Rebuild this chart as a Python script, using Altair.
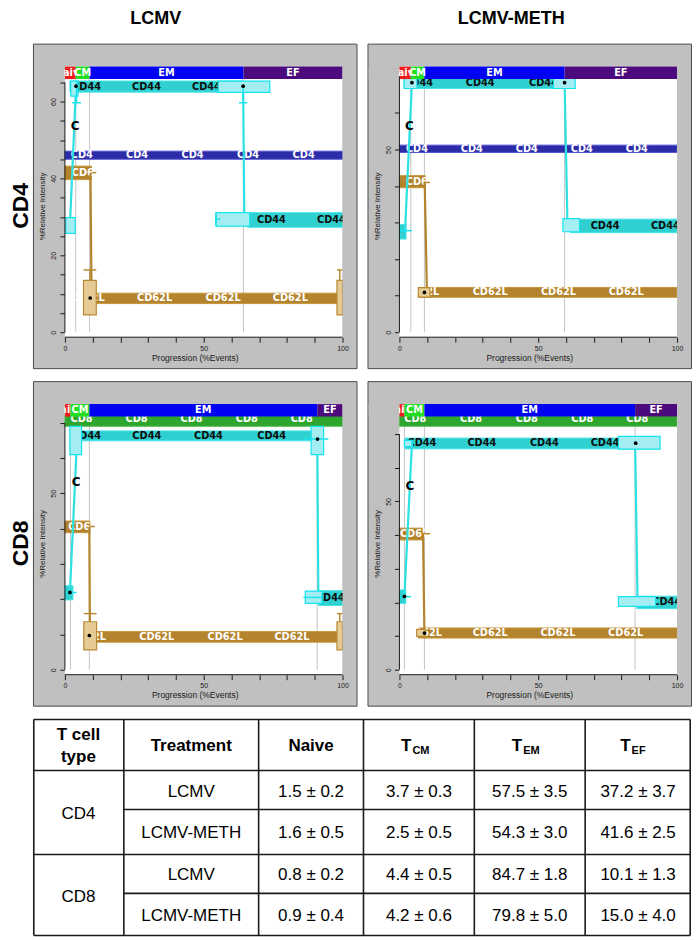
import altair as alt
import pandas as pd

# ---------------- text ----------------
COL_TITLES = ["LCMV", "LCMV-METH"]
ROW_TITLES = ["CD4", "CD8"]
PHASES = ["Naive", "CM", "EM", "EF"]
X_TITLE = "Progression (%Events)"
Y_TITLE = "%Relative Intensity"

# ---------------- panel values ----------------
# bands: [x_start, x_end, level, half_thickness]; boxes: [x1, x2, y1, y2]
# whiskers: [marker, x1, y1, x2, y2]; paths: list of (x, y) points

# CD4 / LCMV
P1_YMAX = 69.1
P1_TICKS = [5, 20]
P1_PHASE_END = [3.9, 8.9, 64.3, 100.0]
P1_ID_LEVEL = [46.05, 1.05]
P1_ID_LABEL_X = [6.1, 26.0, 46.0, 66.0, 86.0]
P1_CD44_BANDS = [[1.8, 64.3, 63.9, 1.45], [65.8, 100.0, 29.2, 1.9]]
P1_CD44_LABELS = [[7.8, 63.9], [29.4, 63.9], [51.0, 63.9], [74.4, 29.2], [96.0, 29.2]]
P1_CD44_PATH = [[(1.8, 27.7), (4.0, 64.0)], [(64.2, 64.0), (64.6, 31.5), (65.8, 29.4)]]
P1_CD44_BOXES = [[0.3, 3.7, 25.7, 29.8], [2.1, 4.7, 61.4, 65.3], [55.2, 73.8, 62.4, 65.3], [54.4, 66.6, 27.6, 31.1]]
P1_CD62L_BANDS = [[0.0, 9.6, 41.45, 1.75], [6.7, 100.0, 8.8, 1.35]]
P1_CD62L_LABELS = [[8.8, 41.45], [8.0, 8.8], [32.3, 8.8], [57.0, 8.8], [81.2, 8.8]]
P1_CD62L_PATH = [[(9.2, 41.3), (9.6, 8.8)]]
P1_CD62L_BOXES = [[6.7, 11.3, 4.5, 13.5], [98.0, 100.0, 4.5, 13.5]]
P1_WHISKERS = [["CD44", 4.2, 65.3, 4.2, 59.7], ["CD44", 2.6, 59.7, 5.8, 59.7],
               ["CD44", 64.2, 64.0, 64.2, 59.7], ["CD44", 62.7, 59.7, 65.7, 59.7],
               ["CD44", 54.4, 29.4, 56.0, 29.4], ["CD44", 54.4, 27.9, 54.4, 30.9],
               ["CD62L", 9.0, 13.5, 9.0, 16.2], ["CD62L", 6.7, 16.2, 11.3, 16.2],
               ["CD62L", 99.0, 13.5, 99.0, 16.2], ["CD62L", 98.0, 16.2, 100.0, 16.2],
               ["CD62L", 9.6, 41.5, 11.3, 41.5]]
P1_DOTS = [[4.0, 64.0], [64.2, 64.0], [9.1, 8.9]]
P1_OPEN = [[3.7, 53.6]]

# CD4 / LCMV-METH
P2_YMAX = 72.7
P2_TICKS = [10, 50]
P2_PHASE_END = [4.1, 9.0, 59.5, 100.0]
P2_ID_LEVEL = [50.2, 1.0]
P2_ID_LABEL_X = [6.3, 26.1, 45.9, 65.7, 85.5]
P2_CD44_BANDS = [[0.0, 2.4, 27.5, 2.0], [1.7, 59.5, 68.2, 1.5], [61.5, 100.0, 29.1, 1.85]]
P2_CD44_LABELS = [[6.9, 68.2], [29.1, 68.2], [51.9, 68.2], [74.1, 29.1], [95.8, 29.1]]
P2_CD44_PATH = [[(2.0, 27.5), (4.5, 68.2)], [(59.5, 68.2), (60.5, 31.0), (61.5, 29.1)]]
P2_CD44_BOXES = [[1.7, 6.3, 66.7, 69.7], [55.5, 63.3, 66.7, 69.7], [58.9, 64.9, 27.5, 31.1]]
P2_CD62L_BANDS = [[0.0, 9.3, 41.2, 1.65], [6.8, 100.0, 10.9, 1.35]]
P2_CD62L_LABELS = [[8.6, 41.2], [8.0, 10.9], [32.7, 10.9], [57.3, 10.9], [81.7, 10.9]]
P2_CD62L_PATH = [[(9.1, 41.2), (9.9, 10.9)]]
P2_CD62L_BOXES = [[6.8, 11.0, 9.6, 12.2]]
P2_WHISKERS = [["CD44", 0.0, 27.8, 4.5, 27.8], ["CD62L", 9.3, 41.0, 11.0, 41.0]]
P2_DOTS = [[4.5, 68.3], [59.5, 68.3], [9.0, 10.9]]
P2_OPEN = [[3.6, 56.5]]

# CD8 / LCMV
P3_YMAX = 75.3
P3_TICKS = [10, 50]
P3_PHASE_END = [2.0, 8.8, 90.9, 100.0]
P3_ID_LEVEL = [70.5, 1.5]
P3_ID_LABEL_X = [6.0, 25.8, 45.6, 65.5, 85.3]
P3_CD44_BANDS = [[0.0, 2.9, 21.8, 2.0], [2.4, 90.9, 66.3, 1.4], [91.3, 100.0, 20.3, 2.1]]
P3_CD44_LABELS = [[7.8, 66.3], [29.5, 66.3], [51.7, 66.3], [74.5, 66.3], [95.6, 20.3]]
P3_CD44_PATH = [[(1.8, 21.9), (4.4, 66.0)], [(90.9, 66.0), (91.3, 20.3)]]
P3_CD44_BOXES = [[1.8, 6.0, 61.0, 69.0], [88.7, 93.2, 61.0, 69.0], [86.6, 92.6, 18.8, 22.3]]
P3_CD62L_BANDS = [[0.0, 9.0, 40.5, 1.65], [8.4, 100.0, 9.3, 1.5]]
P3_CD62L_LABELS = [[7.5, 40.5], [8.5, 9.3], [33.1, 9.3], [57.7, 9.3], [81.8, 9.3]]
P3_CD62L_PATH = [[(8.8, 40.5), (9.0, 9.7)]]
P3_CD62L_BOXES = [[6.8, 11.4, 5.6, 13.6], [98.0, 100.0, 5.6, 13.6]]
P3_WHISKERS = [["CD44", 85.9, 65.4, 94.9, 65.4], ["CD44", 85.9, 20.5, 92.6, 20.5],
               ["CD44", 0.0, 21.9, 4.2, 21.9], ["CD62L", 9.0, 40.6, 10.8, 40.6],
               ["CD62L", 9.1, 13.6, 9.1, 15.9], ["CD62L", 6.8, 15.9, 11.4, 15.9],
               ["CD62L", 99.0, 13.6, 99.0, 15.9], ["CD62L", 98.0, 15.9, 100.0, 15.9]]
P3_DOTS = [[1.8, 21.9], [91.0, 65.4], [8.8, 9.7]]
P3_OPEN = [[4.0, 53.2]]

# CD8 / LCMV-METH
P4_YMAX = 78.9
P4_TICKS = [10, 50]
P4_PHASE_END = [1.8, 9.0, 84.9, 100.0]
P4_ID_LEVEL = [73.85, 1.55]
P4_ID_LABEL_X = [5.7, 25.8, 45.9, 65.9, 85.7]
P4_CD44_BANDS = [[0.0, 2.3, 21.7, 2.0], [2.0, 84.9, 67.2, 1.6], [85.5, 100.0, 20.0, 1.85]]
P4_CD44_LABELS = [[8.1, 67.2], [29.7, 67.2], [52.2, 67.2], [74.1, 67.2], [96.3, 20.0]]
P4_CD44_PATH = [[(1.8, 21.8), (4.5, 67.2)], [(84.9, 67.2), (85.8, 19.9)]]
P4_CD44_BOXES = [[1.8, 4.5, 66.3, 68.1], [78.9, 93.9, 65.5, 69.3], [78.9, 92.3, 18.8, 21.7]]
P4_CD62L_BANDS = [[0.0, 8.3, 40.3, 1.75], [6.8, 100.0, 10.9, 1.5]]
P4_CD62L_LABELS = [[6.5, 40.3], [9.0, 10.9], [32.7, 10.9], [57.1, 10.9], [81.5, 10.9]]
P4_CD62L_PATH = [[(8.5, 40.3), (9.0, 10.9)]]
P4_CD62L_BOXES = [[6.2, 9.3, 9.9, 12.0]]
P4_WHISKERS = [["CD44", 0.0, 21.7, 4.2, 21.7], ["CD62L", 8.3, 40.4, 11.1, 40.4]]
P4_DOTS = [[1.8, 21.8], [85.1, 67.3], [9.0, 10.9]]
P4_OPEN = [[3.8, 54.5]]

# ---------------- table values ----------------
TABLE_HEAD = ["T cell", "Treatment", "Naive", "T", "T", "T"]
TABLE_HEAD_SUB = ["", "", "", "CM", "EM", "EF"]
T_CELL_TYPES = ["CD4", "CD8"]
TREATMENTS = ["LCMV", "LCMV-METH", "LCMV", "LCMV-METH"]
NAIVE_MEAN = [1.5, 1.6, 0.8, 0.9]
NAIVE_SEM = [0.2, 0.5, 0.2, 0.4]
CM_MEAN = [3.7, 2.5, 4.4, 4.2]
CM_SEM = [0.3, 0.5, 0.5, 0.6]
EM_MEAN = [57.5, 54.3, 84.7, 79.8]
EM_SEM = [3.5, 3.0, 1.8, 5.0]
EF_MEAN = [37.2, 41.6, 10.1, 15.0]
EF_SEM = [3.7, 2.5, 1.3, 4.0]

# ---------------- styles / layout ----------------
SANS = "Liberation Sans"
BAND_FONT = "DejaVu Sans"
INK = "#1a1a1a"
PANEL_GRAY = "#c0c0c0"
PANEL_EDGE = "#4a4a4a"
PHASE_COLORS = ["#ee1c1c", "#22dd22", "#0000f2", "#4c0a7d"]
STYLE = {
    "CD4": dict(fill="#2c2ca8", edge="#5252d2", text="#ffffff"),
    "CD8": dict(fill="#2ea62e", edge="#52c052", text="#ffffff"),
    "CD44": dict(fill="#30cfd0", edge="#44e6e8", text="#0d0d0d", box="#a4eef3",
                 boxedge="#14e4ee", line="#2ee0e2"),
    "CD62L": dict(fill="#b4832d", edge="#c69639", text="#ffffff", box="#e6cb94",
                  boxedge="#b98a34", line="#b4832d"),
}

VIEW_W, VIEW_H = 324, 325
LABEL_W = 14
GAP_X = 11
PLOT_L, PLOT_R, PLOT_T = 32, 14, 23
ZERO_Y, AXIS_Y = 289, 294
PHASE_H = 12.5
PX_X = (VIEW_W - PLOT_L - PLOT_R) / 100.0
X_MIN = -PLOT_L / PX_X
X_MAX = 100 + PLOT_R / PX_X


def build_panel(ymax, ticks, phase_end, id_name, id_level, id_label_x,
                cd44_bands, cd44_labels, cd44_path, cd44_boxes,
                cd62l_bands, cd62l_labels, cd62l_path, cd62l_boxes,
                whiskers, dots, opens, title=None):
    ppu = (ZERO_Y - PLOT_T) / ymax
    xs = alt.Scale(domain=[X_MIN, X_MAX], nice=False, zero=False)
    ys = alt.Scale(domain=[(ZERO_Y - VIEW_H) / ppu, ZERO_Y / ppu], nice=False, zero=False)
    axis_y = (ZERO_Y - AXIS_Y) / ppu
    ph_lo = ymax - PHASE_H / ppu
    tick, lab = ticks
    top_tick = int(ymax // tick) * tick

    x_axis = alt.Axis(
        orient="bottom", offset=-(VIEW_H - AXIS_Y), values=list(range(0, 101, 10)),
        labelExpr="datum.value % 50 === 0 ? datum.label : ''",
        domain=False, grid=False, tickSize=5, tickColor=INK, tickWidth=1,
        labelFont=SANS, labelFontSize=7, labelColor=INK, labelPadding=2,
        labelOverlap=False, labelFlush=False,
        title=X_TITLE, titleFont=SANS, titleFontSize=8.5, titleFontWeight="normal",
        titleColor=INK, titlePadding=2)
    y_axis = alt.Axis(
        orient="left", offset=-PLOT_L, values=list(range(0, top_tick + 1, tick)),
        labelExpr=f"datum.value % {lab} === 0 ? datum.label : ''",
        domain=False, grid=False, tickSize=5, tickColor=INK, tickWidth=1,
        labelFont=SANS, labelFontSize=7, labelColor=INK, labelPadding=3,
        labelAngle=270, labelAlign="center", labelBaseline="bottom",
        labelOverlap=False, labelFlush=False,
        title=Y_TITLE, titleFont=SANS, titleFontSize=8, titleFontWeight="normal",
        titleColor=INK, titlePadding=3)

    def X(f):
        return alt.X(f, scale=xs, axis=x_axis)

    def Y(f):
        return alt.Y(f, scale=ys, axis=y_axis)

    def rect(rows, **mk):
        df = pd.DataFrame(rows, columns=["x1", "x2", "y1", "y2"])
        return alt.Chart(df).mark_rect(**mk).encode(
            x=X("x1:Q"), x2="x2:Q", y=Y("y1:Q"), y2="y2:Q")

    def rule(rows, **mk):
        df = pd.DataFrame(rows, columns=["x1", "x2", "y1", "y2"])
        return alt.Chart(df).mark_rule(**mk).encode(
            x=X("x1:Q"), x2="x2:Q", y=Y("y1:Q"), y2="y2:Q")

    def text(rows, **mk):
        df = pd.DataFrame(rows, columns=["x", "y", "t"])
        return alt.Chart(df).mark_text(**mk).encode(x=X("x:Q"), y=Y("y:Q"), text="t:N")

    def line(paths, **mk):
        rows = [{"seg": s, "i": i, "x": x, "y": y}
                for s, path in enumerate(paths) for i, (x, y) in enumerate(path)]
        return alt.Chart(pd.DataFrame(rows)).mark_line(**mk).encode(
            x=X("x:Q"), y=Y("y:Q"), detail="seg:N", order="i:Q")

    def band_rows(bands):
        return [[a, b, c - h, c + h] for a, b, c, h in bands]

    band_text = dict(font=BAND_FONT, fontWeight="bold", fontSize=9.8,
                     align="center", baseline="middle")

    layers = [rect([[0.0, 100.0, axis_y, ymax]], fill="white")]
    layers.append(rule([[x, x, 0.0, ph_lo] for x in phase_end[:-1]],
                       color="#c4c4c4", strokeWidth=1))

    s = STYLE[id_name]
    c, h = id_level
    layers.append(rect([[0.0, 100.0, c - h, c + h]], fill=s["fill"], stroke=s["edge"], strokeWidth=1))
    layers.append(text([[x, c, id_name] for x in id_label_x], fill=s["text"],
                       dy=-2 if id_name == "CD8" else 0, **band_text))

    for name, bands, labels, path, boxes in (
            ("CD62L", cd62l_bands, cd62l_labels, cd62l_path, cd62l_boxes),
            ("CD44", cd44_bands, cd44_labels, cd44_path, cd44_boxes)):
        s = STYLE[name]
        layers.append(rect(band_rows(bands), fill=s["fill"], stroke=s["edge"], strokeWidth=1))
        layers.append(text([[x, y, name] for x, y in labels], fill=s["text"], **band_text))
        layers.append(line(path, color=s["line"], strokeWidth=2.2))
        layers.append(rect(boxes, fill=s["box"], stroke=s["boxedge"], strokeWidth=1.2))
        wh = [[w[1], w[3], w[2], w[4]] for w in whiskers if w[0] == name]
        if wh:
            layers.append(rule(wh, color=s["boxedge"], strokeWidth=1.5))

    layers.append(alt.Chart(pd.DataFrame(dots, columns=["x", "y"])).mark_point(
        filled=True, color="black", size=14, opacity=1).encode(x=X("x:Q"), y=Y("y:Q")))
    layers.append(text([[x, y, "C"] for x, y in opens], fill="black", font=BAND_FONT,
                       fontWeight="bold", fontSize=12, align="center", baseline="middle"))

    starts = [0.0] + phase_end[:-1]
    ph = pd.DataFrame({"phase": PHASES, "x1": starts, "x2": phase_end,
                       "y1": ph_lo, "y2": ymax})
    ph["xc"] = (ph["x1"] + ph["x2"]) / 2
    ph["yc"] = (ph["y1"] + ph["y2"]) / 2
    pcol = alt.Color("phase:N", scale=alt.Scale(domain=PHASES, range=PHASE_COLORS), legend=None)
    for part in (ph.iloc[:1], ph.iloc[1:]):
        layers.append(alt.Chart(part).mark_rect().encode(
            x=X("x1:Q"), x2="x2:Q", y=Y("y1:Q"), y2="y2:Q", color=pcol))
        layers.append(alt.Chart(part).mark_text(fill="white", **band_text).encode(
            x=X("xc:Q"), y=Y("yc:Q"), text="phase:N"))

    # gray margins mask what spills outside the plotting region
    layers.append(rect([[X_MIN + 1.2 / PX_X, -0.15, ph_lo, ymax]], fill=PANEL_GRAY))
    layers.append(rect([[100.0, X_MAX - 1.2 / PX_X, axis_y, ymax + 0.2]], fill=PANEL_GRAY))

    layers.append(rule([[0.0, 100.0, axis_y, axis_y]], color=INK, strokeWidth=1))
    layers.append(rule([[0.0, 0.0, 0.0, float(top_tick)]], color=INK, strokeWidth=1))

    props = dict(width=VIEW_W, height=VIEW_H,
                 view=alt.ViewBackground(fill=PANEL_GRAY, stroke=PANEL_EDGE, strokeWidth=1))
    if title is not None:
        props["title"] = title
    return alt.layer(*layers).properties(**props)


def col_title(txt, dx):
    return alt.TitleParams(text=txt, anchor="middle", dx=dx, fontSize=18, fontWeight="bold",
                           font=SANS, color="black", offset=16)


def side_label(txt, h):
    return alt.Chart(pd.DataFrame({"t": [txt]})).mark_text(
        angle=270, dy=6, font=SANS, fontWeight="bold", fontSize=23, color="black",
        align="center", baseline="middle").encode(text="t:N").properties(width=LABEL_W, height=h)


p1 = build_panel(P1_YMAX, P1_TICKS, P1_PHASE_END, "CD4", P1_ID_LEVEL, P1_ID_LABEL_X,
                 P1_CD44_BANDS, P1_CD44_LABELS, P1_CD44_PATH, P1_CD44_BOXES,
                 P1_CD62L_BANDS, P1_CD62L_LABELS, P1_CD62L_PATH, P1_CD62L_BOXES,
                 P1_WHISKERS, P1_DOTS, P1_OPEN, title=col_title(COL_TITLES[0], -39))
p2 = build_panel(P2_YMAX, P2_TICKS, P2_PHASE_END, "CD4", P2_ID_LEVEL, P2_ID_LABEL_X,
                 P2_CD44_BANDS, P2_CD44_LABELS, P2_CD44_PATH, P2_CD44_BOXES,
                 P2_CD62L_BANDS, P2_CD62L_LABELS, P2_CD62L_PATH, P2_CD62L_BOXES,
                 P2_WHISKERS, P2_DOTS, P2_OPEN, title=col_title(COL_TITLES[1], -18))
p3 = build_panel(P3_YMAX, P3_TICKS, P3_PHASE_END, "CD8", P3_ID_LEVEL, P3_ID_LABEL_X,
                 P3_CD44_BANDS, P3_CD44_LABELS, P3_CD44_PATH, P3_CD44_BOXES,
                 P3_CD62L_BANDS, P3_CD62L_LABELS, P3_CD62L_PATH, P3_CD62L_BOXES,
                 P3_WHISKERS, P3_DOTS, P3_OPEN)
p4 = build_panel(P4_YMAX, P4_TICKS, P4_PHASE_END, "CD8", P4_ID_LEVEL, P4_ID_LABEL_X,
                 P4_CD44_BANDS, P4_CD44_LABELS, P4_CD44_PATH, P4_CD44_BOXES,
                 P4_CD62L_BANDS, P4_CD62L_LABELS, P4_CD62L_PATH, P4_CD62L_BOXES,
                 P4_WHISKERS, P4_DOTS, P4_OPEN)

# ---------------- table ----------------
COL_EDGES = [0, 91, 226, 331, 442, 553, 659]
ROW_EDGES = [0, 52, 91, 136, 175, 218]
TABLE_W, TABLE_H = COL_EDGES[-1], ROW_EDGES[-1]


def build_table():
    tx = alt.Scale(domain=[0, TABLE_W], nice=False, zero=False)
    ty = alt.Scale(domain=[0, TABLE_H], nice=False, zero=False, reverse=True)
    inset = 0.8
    lines = []
    for k, y in enumerate(ROW_EDGES):
        yy = min(max(y, inset), TABLE_H - inset)
        x0 = COL_EDGES[1] if k in (2, 4) else inset
        lines.append([x0, TABLE_W - inset, yy, yy])
    for x in COL_EDGES:
        xx = min(max(x, inset), TABLE_W - inset)
        lines.append([xx, xx, inset, TABLE_H - inset])
    ldf = pd.DataFrame(lines, columns=["x1", "x2", "y1", "y2"])
    grid = alt.Chart(ldf).mark_rule(color=INK, strokeWidth=1.6).encode(
        x=alt.X("x1:Q", scale=tx, axis=None), x2="x2:Q",
        y=alt.Y("y1:Q", scale=ty, axis=None), y2="y2:Q")

    cx = [(COL_EDGES[i] + COL_EDGES[i + 1]) / 2 for i in range(len(COL_EDGES) - 1)]
    ry = [(ROW_EDGES[i] + ROW_EDGES[i + 1]) / 2 + 1.5 for i in range(len(ROW_EDGES) - 1)]
    head_y = ry[0]

    def tchart(rows, **mk):
        df = pd.DataFrame(rows, columns=["x", "y", "t"])
        return alt.Chart(df).mark_text(**mk).encode(
            x=alt.X("x:Q", scale=tx, axis=None), y=alt.Y("y:Q", scale=ty, axis=None),
            text="t:N")

    head = [[cx[0], head_y - 11, TABLE_HEAD[0]], [cx[0], head_y + 11, "type"]]
    head += [[cx[i], head_y, TABLE_HEAD[i]] for i in (1, 2)]
    heads_t = [[cx[i], head_y, TABLE_HEAD[i]] for i in (3, 4, 5)]
    subs = [[cx[i], head_y, TABLE_HEAD_SUB[i]] for i in (3, 4, 5)]

    body = []
    body.append([cx[0], (ROW_EDGES[1] + ROW_EDGES[3]) / 2 + 2, T_CELL_TYPES[0]])
    body.append([cx[0], (ROW_EDGES[3] + ROW_EDGES[5]) / 2 + 2, T_CELL_TYPES[1]])
    for r in range(4):
        y = ry[r + 1]
        body.append([cx[1], y, TREATMENTS[r]])
        for c, (m, e) in enumerate(((NAIVE_MEAN, NAIVE_SEM), (CM_MEAN, CM_SEM),
                                    (EM_MEAN, EM_SEM), (EF_MEAN, EF_SEM))):
            body.append([cx[c + 2], y, f"{m[r]:.1f} \u00b1 {e[r]:.1f}"])

    bold = dict(font=SANS, fontWeight="bold", fontSize=17, fill="black", baseline="middle")
    layers = [
        grid,
        tchart(head, align="center", **bold),
        tchart(heads_t, align="right", dx=-7.5, **bold),
        tchart(subs, align="left", dx=-6.5, dy=5, font=SANS, fontWeight="bold",
               fontSize=11, fill="black", baseline="middle"),
        tchart(body, align="center", font=SANS, fontSize=17, fill="black", baseline="middle"),
    ]
    return alt.layer(*layers).properties(
        width=TABLE_W, height=TABLE_H, view=alt.ViewBackground(fill="white", strokeWidth=0))


row1 = alt.hconcat(side_label(ROW_TITLES[0], VIEW_H), p1, p2, spacing=GAP_X, bounds="flush")
row2 = alt.hconcat(side_label(ROW_TITLES[1], VIEW_H), p3, p4, spacing=GAP_X, bounds="flush")
row3 = alt.hconcat(side_label("", TABLE_H), build_table(), spacing=GAP_X, bounds="flush")
panels = alt.vconcat(row1, row2, spacing=11)
chart = alt.vconcat(panels, row3, spacing=12).properties(
    padding={"left": 0, "top": 0, "right": 0, "bottom": 0}
).configure(background="white").configure_view(strokeWidth=0)

chart.save("out.html", embed_options={"renderer": "svg", "actions": False})
